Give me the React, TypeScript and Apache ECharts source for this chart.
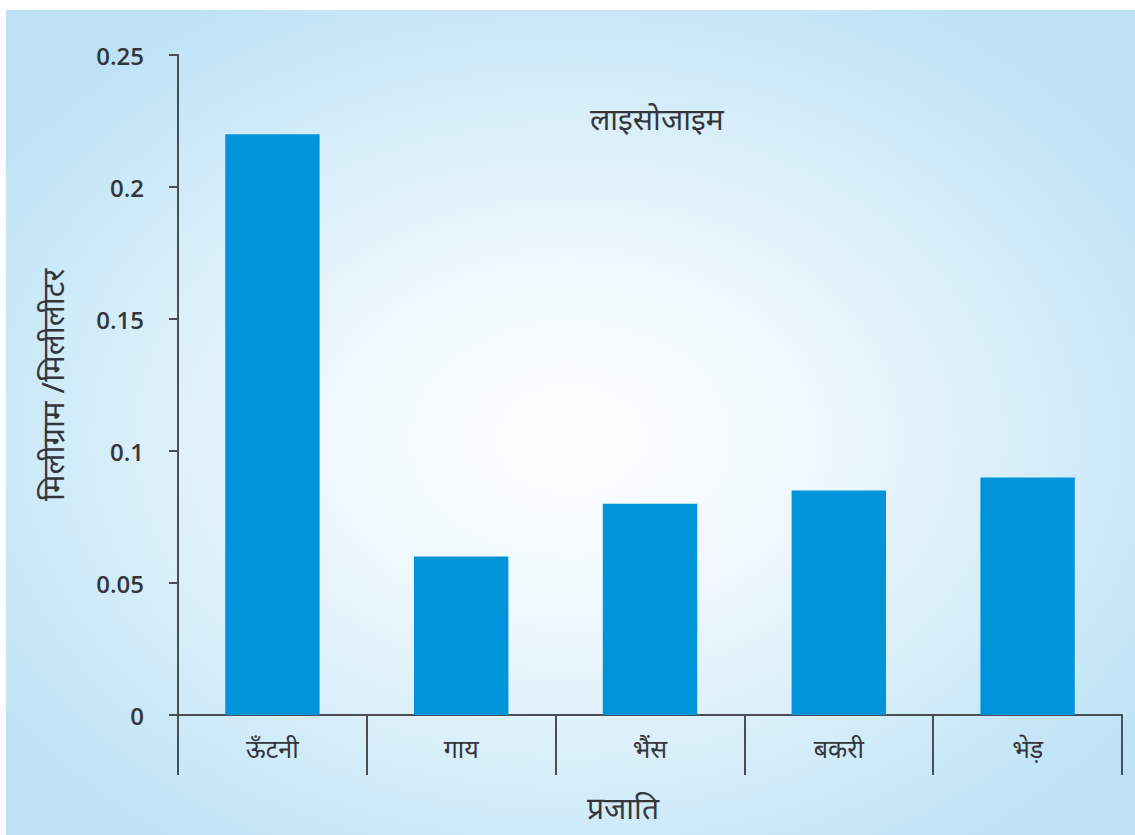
import React, { useEffect, useRef } from "react";
import * as echarts from "echarts";

const categories = ["ऊँटनी", "गाय", "भैंस", "बकरी", "भेड़"];
const lysozymeValues = [0.22, 0.06, 0.08, 0.085, 0.09];
const yTicks = { min: 0, max: 0.25, interval: 0.05 };
const titleText = "लाइसोजाइम";
const yAxisName = "मिलीग्राम /मिलीलीटर";
const xAxisName = "प्रजाति";

export default function App() {
  const ref = useRef<HTMLDivElement>(null);
  useEffect(() => {
    if (!ref.current) return;
    const chart = echarts.init(ref.current, null, { renderer: "svg" });
    const axisColor = "#4a4f55";
    const textColor = "#33363b";
    const font = "'Noto Sans', 'Open Sans', sans-serif";
    chart.setOption({
      animation: false,
      graphic: [
        {
          type: "rect",
          z: -10,
          silent: true,
          shape: { x: 6, y: 10, width: 1129, height: 825 },
          style: {
            fill: new echarts.graphic.RadialGradient(0.5, 0.52, 0.62, [
              { offset: 0, color: "#ffffff" },
              { offset: 0.35, color: "#eef8fd" },
              { offset: 1, color: "#bde2f6" },
            ]),
          },
        },
        {
          type: "text",
          left: 590,
          top: 103,
          style: { text: titleText, fontSize: 30, fill: textColor, fontFamily: font },
        },
      ],
      grid: { left: 178, right: 13, top: 55, bottom: 120 },
      xAxis: {
        type: "category",
        data: categories,
        boundaryGap: true,
        name: xAxisName,
        nameLocation: "middle",
        nameGap: 77,
        nameTextStyle: { fontSize: 30, color: textColor, fontFamily: font, padding: [0, 54, 0, 0] },
        axisLine: { lineStyle: { color: axisColor, width: 2 } },
        axisTick: { show: true, length: 60, lineStyle: { color: axisColor, width: 2 } },
        axisLabel: { fontSize: 25, color: textColor, margin: 20, fontFamily: font },
      },
      yAxis: {
        type: "value",
        min: yTicks.min,
        max: yTicks.max,
        interval: yTicks.interval,
        name: yAxisName,
        nameLocation: "middle",
        nameGap: 111,
        nameRotate: 90,
        nameTextStyle: { fontSize: 31, color: textColor, fontFamily: font },
        splitLine: { show: false },
        axisLine: { show: true, lineStyle: { color: axisColor, width: 2 } },
        axisTick: { show: true, length: 9, lineStyle: { color: axisColor, width: 2 } },
        axisLabel: {
          fontSize: 24,
          fontWeight: 600,
          color: textColor,
          margin: 34,
          fontFamily: "'Open Sans', sans-serif",
        },
      },
      series: [
        {
          type: "bar",
          data: lysozymeValues,
          barWidth: "50%",
          itemStyle: { color: "#0095da" },
        },
      ],
    });
    return () => chart.dispose();
  }, []);
  return (
    <div
      ref={ref}
      style={{ position: "fixed", left: 0, top: 0, width: 1135, height: 835, background: "#ffffff" }}
    />
  );
}
